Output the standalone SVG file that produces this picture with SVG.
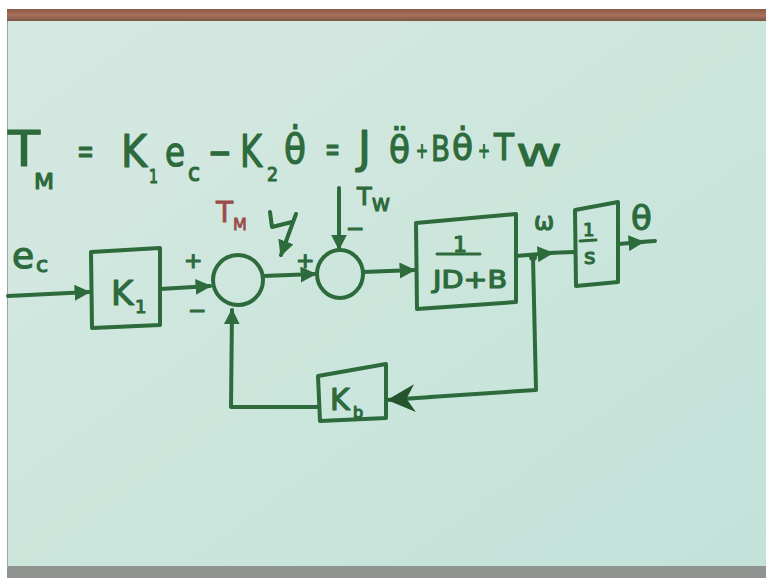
<svg xmlns="http://www.w3.org/2000/svg" width="766" height="578" viewBox="0 0 766 578">
<defs>
<linearGradient id="board" x1="0" y1="0" x2="1" y2="1">
<stop offset="0" stop-color="#d6e8e2"/>
<stop offset="0.5" stop-color="#cce6dc"/>
<stop offset="1" stop-color="#c2e2da"/>
</linearGradient>
<linearGradient id="frame" x1="0" y1="0" x2="0" y2="1">
<stop offset="0" stop-color="#8a5a42"/>
<stop offset="0.5" stop-color="#a8705a"/>
<stop offset="1" stop-color="#6e5040"/>
</linearGradient>
<marker id="ah" viewBox="0 0 10 10" refX="9" refY="5" markerWidth="4" markerHeight="4" orient="auto" markerUnits="strokeWidth">
<path d="M0,0 L10,5 L0,10 z" fill="#2d6a3c"/>
</marker>
<marker id="big" viewBox="0 0 10 10" refX="10" refY="5" markerWidth="7" markerHeight="7" orient="auto" markerUnits="strokeWidth">
<path d="M0,0 L10,5 L0,10 L3,5 z" fill="#24552f"/>
</marker>
</defs>
<style>
.ink{fill:none;stroke:#2d6a3c;stroke-width:4;stroke-linecap:round;stroke-linejoin:round}
.thin{fill:none;stroke:#2d6a3c;stroke-width:3;stroke-linecap:round;stroke-linejoin:round}
.t{font-family:"DejaVu Sans","Liberation Sans",sans-serif;fill:#2d6a3c;stroke:#2d6a3c;stroke-width:1.2;stroke-linejoin:round}
.r{font-family:"DejaVu Sans","Liberation Sans",sans-serif;fill:#9c4a48;stroke:#9c4a48;stroke-width:0.8}
</style>
<rect x="0" y="0" width="766" height="578" fill="#ffffff"/>
<rect x="7" y="9" width="759" height="13" fill="url(#frame)"/>
<rect x="7" y="21" width="759" height="547" fill="url(#board)"/>
<rect x="7" y="566" width="759" height="12" fill="#8f9491"/>
<line x1="7.5" y1="21" x2="7.5" y2="568" stroke="#9aa8a2" stroke-width="1"/>

<g id="equation">
<text class="t" x="8" y="166" font-size="50" textLength="32" lengthAdjust="spacingAndGlyphs">T</text>
<text class="t" x="34" y="189" font-size="22" textLength="20" lengthAdjust="spacingAndGlyphs">M</text>
<text class="t" x="77" y="163" font-size="36" textLength="17" lengthAdjust="spacingAndGlyphs">=</text>
<text class="t" x="121" y="167" font-size="44" textLength="26" lengthAdjust="spacingAndGlyphs">K</text>
<text class="t" x="149" y="183" font-size="20" textLength="9" lengthAdjust="spacingAndGlyphs">1</text>
<text class="t" x="165" y="166" font-size="40" textLength="20" lengthAdjust="spacingAndGlyphs">e</text>
<text class="t" x="188" y="181" font-size="24" textLength="12" lengthAdjust="spacingAndGlyphs">c</text>
<text class="t" x="208" y="166" font-size="40" textLength="24" lengthAdjust="spacingAndGlyphs">−</text>
<text class="t" x="240" y="167" font-size="44" textLength="22" lengthAdjust="spacingAndGlyphs">K</text>
<text class="t" x="267" y="181" font-size="20" textLength="11" lengthAdjust="spacingAndGlyphs">2</text>
<text class="t" x="284" y="163" font-size="40" textLength="22" lengthAdjust="spacingAndGlyphs">θ̇</text>
<text class="t" x="325" y="161" font-size="34" textLength="15" lengthAdjust="spacingAndGlyphs">=</text>
<text class="t" x="358" y="163" font-size="44">J</text>
<text class="t" x="389" y="162" font-size="38" textLength="21" lengthAdjust="spacingAndGlyphs">θ̈</text>
<text class="t" x="416" y="158" font-size="22" textLength="12" lengthAdjust="spacingAndGlyphs">+</text>
<text class="t" x="431" y="161" font-size="36" textLength="19" lengthAdjust="spacingAndGlyphs">B</text>
<text class="t" x="452" y="160" font-size="36" textLength="21" lengthAdjust="spacingAndGlyphs">θ̇</text>
<text class="t" x="478" y="158" font-size="22" textLength="12" lengthAdjust="spacingAndGlyphs">+</text>
<text class="t" x="494" y="160" font-size="38" textLength="20" lengthAdjust="spacingAndGlyphs">T</text>
<text class="t" x="517" y="166" font-size="30" textLength="44" lengthAdjust="spacingAndGlyphs">W</text>
</g>

<g id="connectors">
<line class="ink" x1="8" y1="296" x2="89" y2="292" marker-end="url(#ah)"/>
<line class="ink" x1="160" y1="289" x2="210" y2="286" marker-end="url(#ah)"/>
<line class="ink" x1="263" y1="276" x2="315" y2="274" marker-end="url(#ah)"/>
<line class="ink" x1="339" y1="188" x2="339" y2="249" marker-end="url(#ah)"/>
<path class="ink" d="M270,212 L272,227 L292,222 M296,214 L281,255" marker-end="url(#ah)"/>
<line class="ink" x1="363" y1="272" x2="414" y2="270" marker-end="url(#ah)"/>
<line class="ink" x1="516" y1="256" x2="552" y2="253" marker-end="url(#ah)"/>
<line class="ink" x1="548" y1="253" x2="574" y2="252"/>
<line class="ink" x1="618" y1="244" x2="643" y2="242" marker-end="url(#ah)"/>
<line class="ink" x1="640" y1="242" x2="655" y2="241"/>
<circle cx="533" cy="257" r="4" fill="#2d6a3c"/>
<path class="ink" d="M533,257 L536,390 L430,397"/>
<line class="ink" x1="432" y1="397" x2="387" y2="400" marker-end="url(#big)"/>
<path class="ink" d="M318,407 L231,407 L232,310" marker-end="url(#ah)"/>
</g>

<g id="label-ec">
<text class="t" x="12" y="268" font-size="36">e</text>
<text class="t" x="36" y="272" font-size="22">c</text>
</g>

<g id="K1">
<path class="ink" d="M91,252 L160,248 L160,325 L92,328 Z"/>
<text class="t" x="111" y="305" font-size="34">K</text>
<text class="t" x="135" y="313" font-size="18">1</text>
</g>

<g id="sum1">
<circle class="ink" cx="238" cy="280" r="25"/>
<text class="t" x="184" y="268" font-size="22">+</text>
<text class="t" x="188" y="318" font-size="22">−</text>
</g>

<g id="label-TM">
<text class="r" x="216" y="222" font-size="28">T</text>
<text class="r" x="233" y="230" font-size="16">M</text>
</g>

<g id="sum2">
<ellipse class="ink" cx="340" cy="274" rx="23" ry="24"/>
<text class="t" x="296" y="268" font-size="22">+</text>
<text class="t" x="346" y="236" font-size="22">−</text>
<text class="t" x="357" y="205" font-size="24">T</text>
<text class="t" x="372" y="211" font-size="18">W</text>
</g>

<g id="plant">
<path class="ink" d="M416,223 L516,214 L516,302 L417,309 Z"/>
<text class="t" x="453" y="252" font-size="22">1</text>
<line class="thin" x1="437" y1="254" x2="480" y2="254"/>
<text class="t" x="433" y="288" font-size="24" textLength="74" lengthAdjust="spacingAndGlyphs">JD+B</text>
<text class="t" x="534" y="230" font-size="24">ω</text>
</g>

<g id="integrator">
<path class="ink" d="M575,210 L618,202 L618,282 L576,286 Z"/>
<text class="t" x="583" y="236" font-size="18">1</text>
<line class="thin" x1="580" y1="241" x2="596" y2="240"/>
<text class="t" x="584" y="264" font-size="22">s</text>
<text class="t" x="631" y="230" font-size="34">θ</text>
</g>

<g id="Kb">
<path class="ink" d="M318,376 L386,364 L386,418 L320,421 Z"/>
<text class="t" x="330" y="410" font-size="30">K</text>
<text class="t" x="353" y="418" font-size="16">b</text>
</g>
</svg>
